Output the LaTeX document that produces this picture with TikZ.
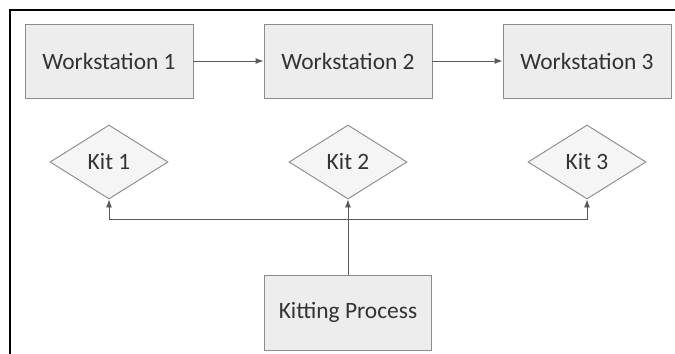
\documentclass[tikz,border=0pt]{standalone}
\usepackage{fontspec}
\setmainfont{Carlito}
\usetikzlibrary{shapes.geometric}
\usetikzlibrary{arrows.meta}

\begin{document}
\begin{tikzpicture}[
  station/.style={rectangle,draw=black!45,fill=black!7,line width=0.8pt,minimum width=5.04cm,minimum height=2.22cm,font=\fontsize{20}{24}\selectfont,text=black!80},
  kit/.style={diamond,draw=black!45,fill=black!4,line width=0.8pt,inner sep=0pt,minimum width=3.54cm,minimum height=2.22cm,font=\fontsize{20}{24}\selectfont,text=black!80},
  flow/.style={draw=black!65,line width=0.8pt,-{Latex[length=2.4mm,width=1.8mm]}}]
\useasboundingbox (0,0) rectangle (20.25,10.62);
\draw[black,line width=1.7pt] (0.3,0) -- (0.3,10.32) -- (20.25,10.32);

\node[station] (ws1) at (3.27,8.79) {Workstation 1};
\node[station] (ws2) at (10.44,8.79) {Workstation 2};
\node[station] (ws3) at (17.61,8.79) {Workstation 3};
\draw[flow] (ws1) -- (ws2);
\draw[flow] (ws2) -- (ws3);

\node[kit] (kit1) at (3.27,5.76) {Kit 1};
\node[kit] (kit2) at (10.44,5.76) {Kit 2};
\node[kit] (kit3) at (17.61,5.76) {Kit 3};

\node[station,minimum width=5.01cm,minimum height=2.25cm] (kp) at (10.44,1.245) {Kitting Process};
\coordinate (bus) at (10.44,4.05);
\draw[flow] (kp) -- (kit2);
\draw[flow] (bus) -| (kit1);
\draw[flow] (bus) -| (kit3);

\end{tikzpicture}
\end{document}
